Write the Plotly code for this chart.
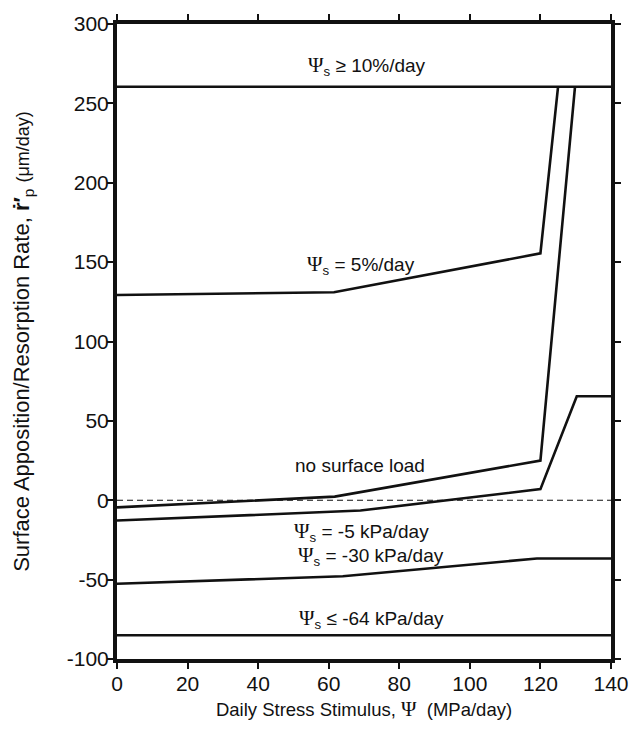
import plotly.graph_objects as go

# Data
x_10pct = [0, 140]
y_10pct = [260.5, 260.5]

x_5pct = [0, 61.5, 120, 125]
y_5pct = [129.3, 131, 155.5, 260.5]

x_noload = [0, 61.7, 120, 129.8]
y_noload = [-4.5, 2.3, 25, 260.5]

x_m5 = [0, 69, 120, 130.3, 140]
y_m5 = [-12.8, -6.5, 7, 65.5, 65.5]

x_m30 = [0, 64, 119, 140]
y_m30 = [-52.6, -47.9, -36.7, -36.7]

x_m64 = [0, 140]
y_m64 = [-85, -85]

x_zero = [0, 140]
y_zero = [0, 0]

x_ticks = [0, 20, 40, 60, 80, 100, 120, 140]
y_ticks = [-100, -50, 0, 50, 100, 150, 200, 250, 300]

FONT = "Liberation Sans, Arial, sans-serif"
PSI = '<span style="font-family:Liberation Serif;font-size:21px">Ψ</span>'

labels = [
    (70.8, 273.5, PSI + "<sub>s</sub> ≥ 10%/day"),
    (69.2, 148.5, PSI + "<sub>s</sub> = 5%/day"),
    (68.8, 22, "no surface load"),
    (69.3, -20, PSI + "<sub>s</sub> = -5 kPa/day"),
    (72.0, -35, PSI + "<sub>s</sub> = -30 kPa/day"),
    (72.2, -75, PSI + "<sub>s</sub> ≤ -64 kPa/day"),
]

fig = go.Figure()
line_style = dict(color="#111111", width=2.6)
for xs, ys in [(x_10pct, y_10pct), (x_5pct, y_5pct), (x_noload, y_noload),
               (x_m5, y_m5), (x_m30, y_m30), (x_m64, y_m64)]:
    fig.add_trace(go.Scatter(x=xs, y=ys, mode="lines", line=line_style,
                             showlegend=False, hoverinfo="skip"))
fig.add_trace(go.Scatter(x=x_zero, y=y_zero, mode="lines",
                         line=dict(color="#111111", width=1.2, dash="6px,4px"),
                         showlegend=False, hoverinfo="skip"))

for lx, ly, txt in labels:
    fig.add_annotation(x=lx, y=ly, text=txt, showarrow=False,
                       font=dict(size=19, color="#111111", family=FONT))

axis_common = dict(showline=True, linewidth=4, linecolor="#111111", mirror="allticks",
                   ticks="outside", ticklen=6, tickwidth=1.5, tickcolor="#111111",
                   showgrid=False, zeroline=False,
                   tickfont=dict(size=21, color="#111111", family=FONT))

fig.update_xaxes(range=[0, 140], tickvals=x_ticks, ticktext=[str(v) for v in x_ticks],
                 ticklabelstandoff=-3,
                 title=dict(text="Daily Stress Stimulus, " + PSI + "  (MPa/day)",
                            font=dict(size=18.5, color="#111111", family=FONT),
                            standoff=10),
                 **axis_common)
fig.update_yaxes(range=[-100, 300], tickvals=y_ticks, ticktext=[str(v) for v in y_ticks],
                 ticklabelstandoff=-6,
                 title=dict(text="Surface Apposition/Resorption Rate, <b>ṙ′</b><sub>p</sub> <span style=\"font-size:18px\">(μm/day)</span>",
                            font=dict(size=22, color="#111111", family=FONT),
                            standoff=32),
                 **axis_common)

fig.update_layout(width=641, height=735, margin=dict(l=117, r=19, t=23, b=76),
                  plot_bgcolor="white", paper_bgcolor="white")

fig.write_html("out.html")
